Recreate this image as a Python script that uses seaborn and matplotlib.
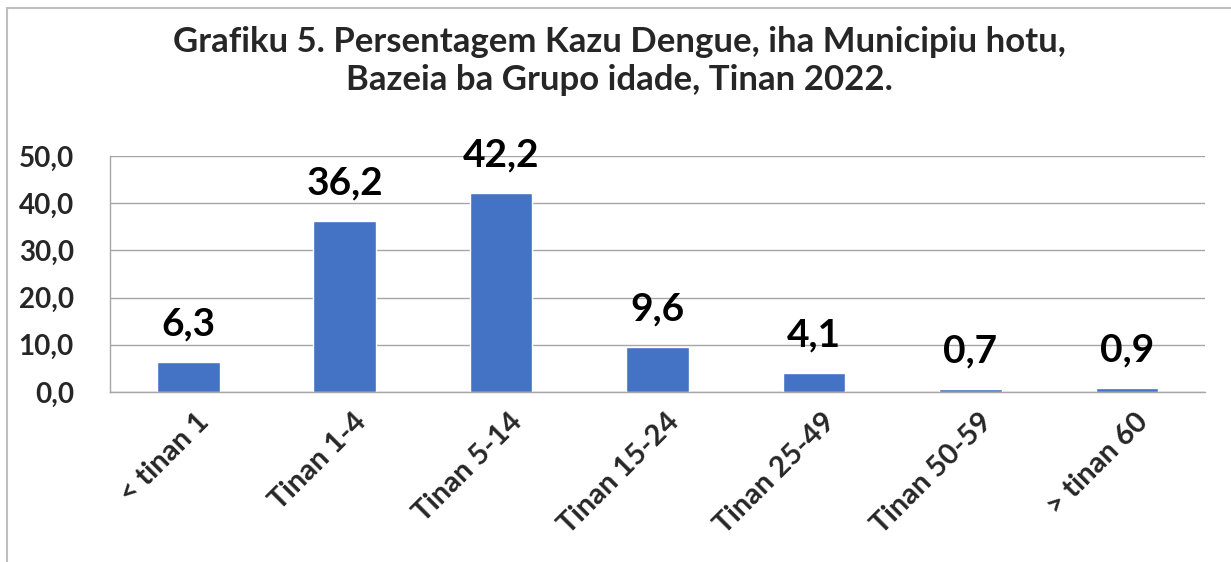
import matplotlib
matplotlib.use("Agg")
import matplotlib.pyplot as plt
import matplotlib.transforms as mtransforms
import seaborn as sns
import pandas as pd
from matplotlib.patches import Rectangle

# ── Data ───────────────────────────────────────────────
grupo = ["< tinan 1", "Tinan 1-4", "Tinan 5-14", "Tinan 15-24",
         "Tinan 25-49", "Tinan 50-59", "> tinan 60"]
persentagem = [6.3, 36.2, 42.2, 9.6, 4.1, 0.7, 0.9]
y_ticks = [0, 10, 20, 30, 40, 50]

title = ("Grafiku 5. Persentagem Kazu Dengue, iha Municipiu hotu,\n"
         "Bazeia ba Grupo idade, Tinan 2022.")

df = pd.DataFrame({"grupo": grupo, "pct": persentagem})

sns.set_theme(style="white")
plt.rcParams["font.family"] = ["Lato", "DejaVu Sans"]

W, H = 1231, 562
fig = plt.figure(figsize=(W / 100, H / 100), dpi=100)
fig.patch.set_facecolor("white")

# outer chart border (only left/top visible in the reference)
fig.add_artist(Rectangle((7 / W, -0.05), 1.2, (H - 8) / H + 0.05,
                         transform=fig.transFigure, fill=False,
                         edgecolor="#BFBFBF", linewidth=1.5))

ax = fig.add_axes([110 / W, (H - 392) / H, 1095 / W, 236 / H])
sns.barplot(data=df, x="grupo", y="pct", color="#4472C4",
            saturation=1, width=0.4, ax=ax)

ax.set_ylim(0, 50)
ax.set_xlim(-0.5, len(grupo) - 0.5)
ax.set_yticks(y_ticks)
ax.set_yticklabels([f"{v:.1f}".replace(".", ",") for v in y_ticks],
                   fontsize=20, fontweight="bold")
ax.set_xticks(range(len(grupo)))
ax.set_xticklabels(grupo, rotation=45, ha="right", rotation_mode="anchor",
                   fontsize=21, fontweight="bold")
ax.tick_params(axis="y", length=0, pad=26)
ax.tick_params(axis="x", length=0, pad=12)
ax.set_xlabel("")
ax.set_ylabel("")

# nudge rotated category labels a little to the right
shift = mtransforms.ScaledTranslation(8 / 100, 0, fig.dpi_scale_trans)
for lbl in ax.get_xticklabels():
    lbl.set_transform(lbl.get_transform() + shift)

ax.yaxis.grid(True, color="#A6A6A6", linewidth=1)
ax.set_axisbelow(True)
for side in ["top", "right"]:
    ax.spines[side].set_visible(False)
for side in ["left", "bottom"]:
    ax.spines[side].set_color("#A6A6A6")
    ax.spines[side].set_linewidth(1)

for i, v in enumerate(persentagem):
    ax.annotate(f"{v:.1f}".replace(".", ","), (i, v), xytext=(0, 19),
                textcoords="offset points", ha="center", va="baseline",
                fontsize=28, fontweight="bold", color="black",
                annotation_clip=False)

fig.text(0.5 + 7 / W / 2, (H - 61) / H, title, ha="center", va="center",
         fontsize=25, fontweight="bold", linespacing=1.2)

fig.savefig("out.png", dpi=100)
